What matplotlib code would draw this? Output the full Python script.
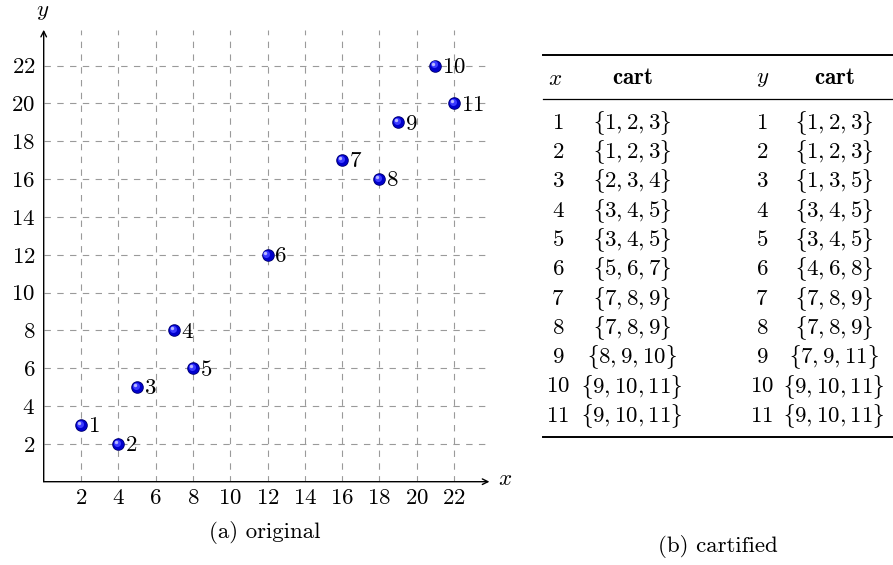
import matplotlib
matplotlib.use('Agg')
import matplotlib.pyplot as plt
import matplotlib.transforms as mtransforms

plt.rcParams['font.family'] = ['cmr10', 'DejaVu Serif']
plt.rcParams['mathtext.fontset'] = 'cm'
plt.rcParams['axes.formatter.use_mathtext'] = True
plt.rcParams['lines.scale_dashes'] = False

# points of the scatter (a)
xs = [2, 4, 5, 7, 8, 12, 16, 18, 19, 21, 22]
ys = [3, 2, 5, 8, 6, 12, 17, 16, 19, 22, 20]
labels = [str(i) for i in range(1, 12)]
ticks = list(range(2, 23, 2))

# table (b)
x_ids = [str(i) for i in range(1, 12)]
x_cart = ['1,2,3', '1,2,3', '2,3,4', '3,4,5', '3,4,5', '5,6,7',
          '7,8,9', '7,8,9', '8,9,10', '9,10,11', '9,10,11']
y_ids = [str(i) for i in range(1, 12)]
y_cart = ['1,2,3', '1,2,3', '1,3,5', '3,4,5', '3,4,5', '4,6,8',
          '7,8,9', '7,8,9', '7,9,11', '9,10,11', '9,10,11']

W, H = 893, 565
fig = plt.figure(figsize=(W / 100, H / 100), dpi=100)
fs = 16.5

lim = 23.9
ux, uy = 18.65, 18.91
ox, oy = 43.7, 481.7
ax = fig.add_axes([ox / W, (H - oy) / H, lim * ux / W, lim * uy / H])
ax.set_xlim(0, lim)
ax.set_ylim(0, lim)
for s in ax.spines.values():
    s.set_visible(False)

for t in ticks:
    ax.axvline(t, color='#9a9a9a', lw=0.8, ls=(0, (4.6, 4.6)), zorder=1)
    ax.axhline(t, color='#9a9a9a', lw=0.8, ls=(0, (4.6, 4.6)), zorder=1)

ax.annotate('', xy=(1.0, 0), xytext=(0, 0), xycoords='axes fraction',
            arrowprops=dict(arrowstyle='->', lw=1.0, color='black',
                            shrinkA=0, shrinkB=0))
ax.annotate('', xy=(0, 1.0), xytext=(0, 0), xycoords='axes fraction',
            arrowprops=dict(arrowstyle='->', lw=1.0, color='black',
                            shrinkA=0, shrinkB=0))
fig.text(505 / W, 1 - 479 / H, '$x$', fontsize=fs, ha='center', va='center')
fig.text(43 / W, 1 - 12 / H, '$y$', fontsize=fs, ha='center', va='center')

ax.set_xticks(ticks)
ax.set_yticks(ticks)
ax.set_xticklabels(['$%d$' % t for t in ticks])
ax.set_yticklabels(['$%d$' % t for t in ticks])
ax.tick_params(length=0, labelsize=fs)
ax.tick_params(axis='x', pad=5)
ax.tick_params(axis='y', pad=6)

# shaded balls
ax.scatter(xs, ys, s=82, color='#000070', zorder=3, linewidths=0)
ax.scatter(xs, ys, s=62, color='#0000cc', zorder=4, linewidths=0)
off1 = mtransforms.offset_copy(ax.transData, fig=fig, x=-0.9, y=0.9, units='points')
ax.scatter(xs, ys, s=26, color='#3a3aff', zorder=5, linewidths=0, transform=off1)
off2 = mtransforms.offset_copy(ax.transData, fig=fig, x=-1.5, y=1.5, units='points')
ax.scatter(xs, ys, s=6, color='#b8b8ff', zorder=6, linewidths=0, transform=off2)

for x, y, lab in zip(xs, ys, labels):
    ax.annotate('$%s$' % lab, (x, y), xytext=(5.0, -1.0), textcoords='offset points',
                ha='left', va='center', fontsize=fs, zorder=7)

fig.text(265 / W, 1 - 533 / H, '(a) original', ha='center', va='center', fontsize=fs)

# table
def fy(py):
    return 1 - py / H

fig.add_artist(plt.Line2D([543 / W, 1.0], [fy(55), fy(55)], color='black', lw=1.4))
fig.add_artist(plt.Line2D([543 / W, 1.0], [fy(99), fy(99)], color='black', lw=0.9))
fig.add_artist(plt.Line2D([543 / W, 1.0], [fy(437), fy(437)], color='black', lw=1.4))

fig.text(555 / W, fy(79), '$x$', ha='center', va='center', fontsize=fs)
fig.text(632 / W, fy(78), r'$\mathbf{cart}$', ha='center', va='center', fontsize=fs)
fig.text(763 / W, fy(79), '$y$', ha='center', va='center', fontsize=fs)
fig.text(834 / W, fy(78), r'$\mathbf{cart}$', ha='center', va='center', fontsize=fs)

row0, step = 123, 29.3
for i in range(len(x_ids)):
    py = row0 + i * step
    fig.text(558 / W, fy(py), '$%s$' % x_ids[i], ha='center', va='center', fontsize=fs)
    fig.text(632 / W, fy(py), r'$\lbrace %s\rbrace$' % x_cart[i], ha='center', va='center', fontsize=fs)
for i in range(len(y_ids)):
    py = row0 + i * step
    fig.text(762 / W, fy(py), '$%s$' % y_ids[i], ha='center', va='center', fontsize=fs)
    fig.text(834 / W, fy(py), r'$\lbrace %s\rbrace$' % y_cart[i], ha='center', va='center', fontsize=fs)

fig.text(718 / W, fy(547), '(b) cartified', ha='center', va='center', fontsize=fs)

fig.savefig('out.png', dpi=100)
